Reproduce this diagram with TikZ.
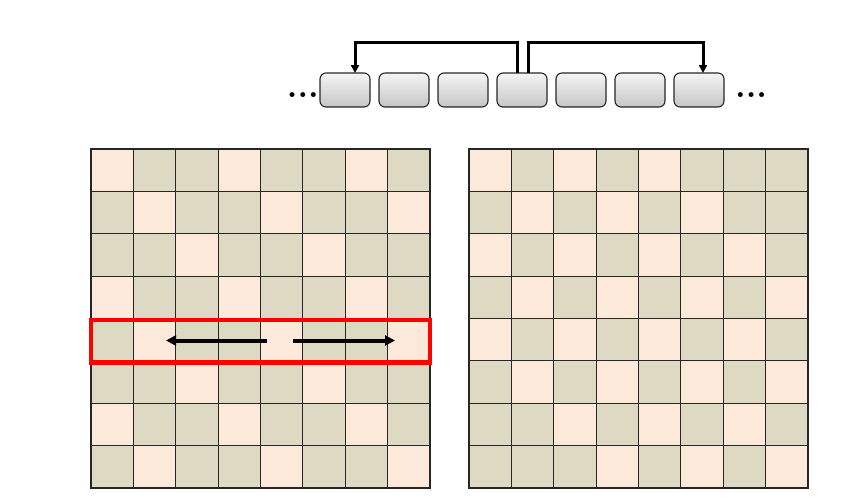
\documentclass[tikz,border=0pt]{standalone}
\usetikzlibrary{positioning,fit,arrows.meta}
\definecolor{cellpink}{HTML}{FDE9D9}
\definecolor{cellgreen}{HTML}{DDD9C3}
\tikzstyle{cell} = [draw=black!85, line width=1.1pt, minimum size=42.375pt,
    inner sep=0pt, outer sep=0pt]
\tikzstyle{slot} = [draw=black!85, line width=1.1pt, rounded corners=6pt,
    minimum width=50pt, minimum height=34pt, inner sep=0pt, outer sep=0pt,
    top color=gray!8, bottom color=gray!45]
\tikzstyle{link} = [line width=3pt, -{Triangle[length=8pt,width=8pt]}]
\tikzstyle{sweep} = [line width=4pt, -{Triangle[length=10pt,width=10pt]}]
\tikzstyle{more} = [font=\fontsize{34}{34}\selectfont\bfseries, inner sep=0pt]

\begin{document}
\begin{tikzpicture}[x=1pt,y=-1pt]
    \useasboundingbox (0,0) rectangle (851,499);
    % memory slots
    \node[slot] (b1) at (345,90) {};
    \foreach \i [remember=\i as \j (initially 1)] in {2,...,7}
        \node[slot, right=9pt of b\j] (b\i) {};
    \node[more, anchor=base east] (ldots) at (319,97) {...};
    \node[more, anchor=base west] (rdots) at (735,97) {...};
    \draw[link] ([xshift=-5pt]b4.north) -- ++(0,-31) -| ([xshift=10pt]b1.north);
    \draw[link] ([xshift=6pt]b4.north) -- ++(0,-31) -| ([xshift=4pt]b7.north);
    % left grid
    \foreach \r in {0,...,7}
        \foreach \c in {0,...,7} {
            \pgfmathtruncatemacro\m{mod(\c-\r+9,3)}
            \ifnum\m=0 \def\fc{cellpink}\else\def\fc{cellgreen}\fi
            \node[cell, fill=\fc] (L-\r-\c) at ({91+42.375*(\c+0.5)},{149+42.375*(\r+0.5)}) {};
        }
    % right grid
    \foreach \r in {0,...,7}
        \foreach \c in {0,...,7} {
            \pgfmathtruncatemacro\m{(mod(\r+\c,2)==0)&&(abs(\r-\c)<5)}
            \ifnum\m=1 \def\fc{cellpink}\else\def\fc{cellgreen}\fi
            \node[cell, fill=\fc] (R-\r-\c) at ({469+42.375*(\c+0.5)},{149+42.375*(\r+0.5)}) {};
        }
    \node[draw=red, line width=4.5pt, inner sep=0pt, yshift=-1.5pt,
        fit=(L-4-0)(L-4-7)] (row) {};
    \coordinate (mid) at (280,340.5);
    \coordinate (lend) at (166,340.5);
    \coordinate (rend) at (395,340.5);
    \draw[sweep] ([xshift=-13pt]mid) -- (lend);
    \draw[sweep] ([xshift=13pt]mid) -- (rend);
\end{tikzpicture}
\end{document}
